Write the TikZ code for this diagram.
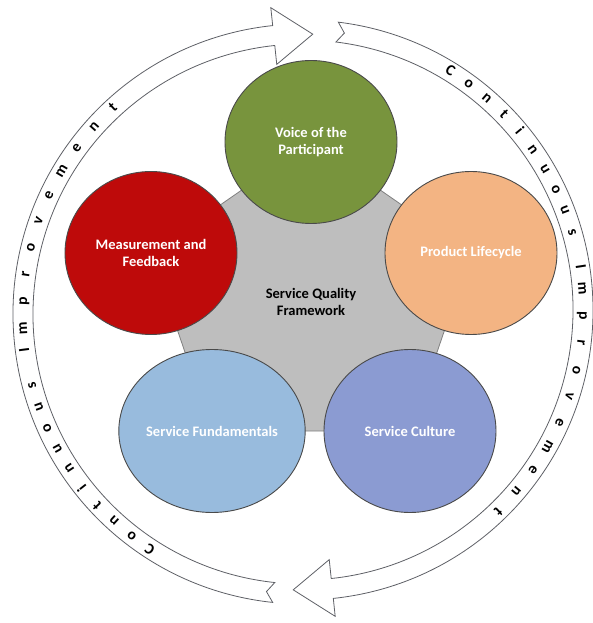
\documentclass[tikz,border=0pt]{standalone}
\usepackage{fontspec}
\setmainfont{Carlito}
\usetikzlibrary{shapes.geometric,backgrounds}

\definecolor{voicegreen}{HTML}{78943D}
\definecolor{lifeorange}{HTML}{F3B483}
\definecolor{cultureblue}{HTML}{8B9BD2}
\definecolor{fundblue}{HTML}{98BBDD}
\definecolor{measurered}{HTML}{BE0A0A}
\definecolor{hubgray}{HTML}{BEBEBE}
\definecolor{bubbleline}{HTML}{4A4A4A}
\definecolor{arrowline}{HTML}{5E6066}

\begin{document}
\begin{tikzpicture}[x=1pt,y=1pt,
	bubble/.style={ellipse, draw=bubbleline, line width=0.9pt, minimum width=172pt, minimum height=163pt, inner sep=0pt, align=center, text=white, font=\fontsize{14.5}{17}\selectfont\bfseries},
	ringarrow/.style={draw=arrowline, fill=white, line width=0.8pt, line join=miter},
	ringletter/.style={font=\fontsize{15.5}{15.5}\selectfont\bfseries, inner sep=0pt, anchor=base}]
	\useasboundingbox (-303,-311) rectangle (289,312);
	
	% left arrow, bottom up to the top
	\begin{scope}[yshift=-2pt]
		\draw[ringarrow] (264:290) -- (262.5:280) -- (264:270) arc[start angle=264, end angle=96, radius=270] -- (96:251) -- (88:280) -- (96:308) -- (96:290) arc[start angle=96, end angle=264, radius=290] -- cycle;
		\foreach \off/\ch [count=\i] in {0/C,4.7/o,9.4/n,14.1/t,18.8/i,23.5/n,28.2/u,32.9/o,37.6/u,42.3/s,49.6/I,54/m,59.6/p,65.2/r,70.8/o,76.4/v,82/e,87.6/m,93.2/e,98.8/n,104.4/t}{
			\pgfmathsetmacro{\ang}{237-\off}
			\node[ringletter, rotate=\ang-90] (left\i) at (\ang:276.3) {\ch};
		}
	\end{scope}
	
	% right arrow, top down to the bottom
	\begin{scope}[yshift=2pt]
		\draw[ringarrow] (83:290) -- (81.5:280) -- (83:270) arc[start angle=83, end angle=-84, radius=270] -- (-84:251) -- (-92:280) -- (-84:308) -- (-84:290) arc[start angle=-84, end angle=83, radius=290] -- cycle;
		\foreach \off/\ch [count=\i] in {0/C,4.7/o,9.4/n,14.1/t,18.8/i,23.5/n,28.2/u,32.9/o,37.6/u,42.3/s,49.6/I,54/m,59.6/p,65.2/r,70.8/o,76.4/v,82/e,87.6/m,93.2/e,98.8/n,104.4/t}{
			\pgfmathsetmacro{\ang}{58.4-\off}
			\node[ringletter, rotate=\ang-90] (right\i) at (\ang:276.3) {\ch};
		}
	\end{scope}
	
	% the five parts
	\node[bubble, fill=voicegreen] (voice) at (8,170) {Voice of the\\Participant};
	\node[bubble, fill=lifeorange] (lifecycle) at (168,59) {Product Lifecycle};
	\node[bubble, fill=cultureblue] (culture) at (107,-119) {Service Culture};
	\node[bubble, fill=fundblue] (fundamentals) at (-91,-119) {Service Fundamentals};
	\node[bubble, fill=measurered] (measure) at (-152,59) {Measurement and\\Feedback};
	
	\node[align=center, font=\fontsize{14.5}{17}\selectfont\bfseries] (framework) at (8,10) {Service Quality\\Framework};
	
	\begin{scope}[on background layer]
		\draw[fill=hubgray, draw=gray, line width=0.8pt] (voice.center) -- (lifecycle.center) -- (culture.center) -- (fundamentals.center) -- (measure.center) -- cycle;
	\end{scope}
\end{tikzpicture}
\end{document}
